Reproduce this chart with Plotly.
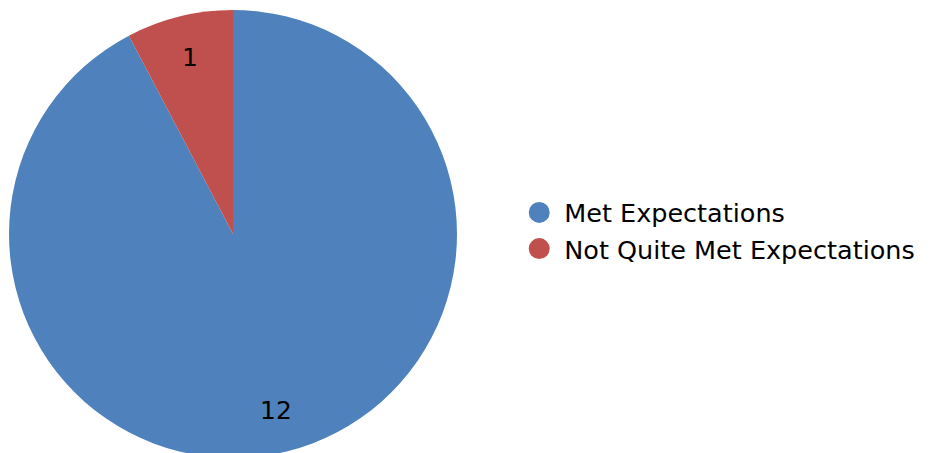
import math
import plotly.graph_objects as go

labels = ["Met Expectations", "Not Quite Met Expectations"]
values = [12, 1]
colors = ["#4F81BD", "#C0504D"]

W, H = 934, 453
M_T, M_B = 2, 3
plot_h = H - M_T - M_B
dom_x = [1 / W, 449 / W]
R_px = 224

fig = go.Figure()
fig.add_trace(go.Pie(
    labels=labels, values=values, sort=False, direction="clockwise", rotation=0,
    marker=dict(colors=colors, line=dict(width=0)),
    textinfo="none",
    showlegend=False, hoverinfo="label+value",
    domain=dict(x=dom_x, y=[0, 1]),
))

# value labels placed along each slice's mid-angle (derived from the data)
total = sum(values)
cx = (dom_x[0] + dom_x[1]) / 2
cy = 0.5
cum = 0
for v in values:
    mid = (cum + v / 2) / total * 2 * math.pi
    cum += v
    r = 0.81 * R_px
    fig.add_annotation(
        x=cx + r * math.sin(mid) / W, y=cy + r * math.cos(mid) / plot_h,
        xref="paper", yref="paper", text=str(v), showarrow=False,
        font=dict(family="DejaVu Sans", size=25, color="black"),
        xanchor="center", yanchor="middle",
    )

for lab, col in zip(labels, colors):
    fig.add_trace(go.Scatter(x=[None], y=[None], mode="markers", name=lab,
                             marker=dict(symbol="circle", size=16, color=col,
                                         line=dict(width=5, color=col))))

fig.update_layout(
    width=W, height=H,
    margin=dict(l=0, r=0, t=M_T, b=M_B),
    paper_bgcolor="white", plot_bgcolor="white",
    xaxis=dict(visible=False), yaxis=dict(visible=False),
    showlegend=True,
    legend=dict(x=0.542, y=0.507, xanchor="left", yanchor="middle",
                font=dict(family="DejaVu Sans", size=25.5, color="black"),
                itemwidth=40, tracegroupgap=0, bgcolor="rgba(0,0,0,0)"),
)
fig.write_html("out.html")
